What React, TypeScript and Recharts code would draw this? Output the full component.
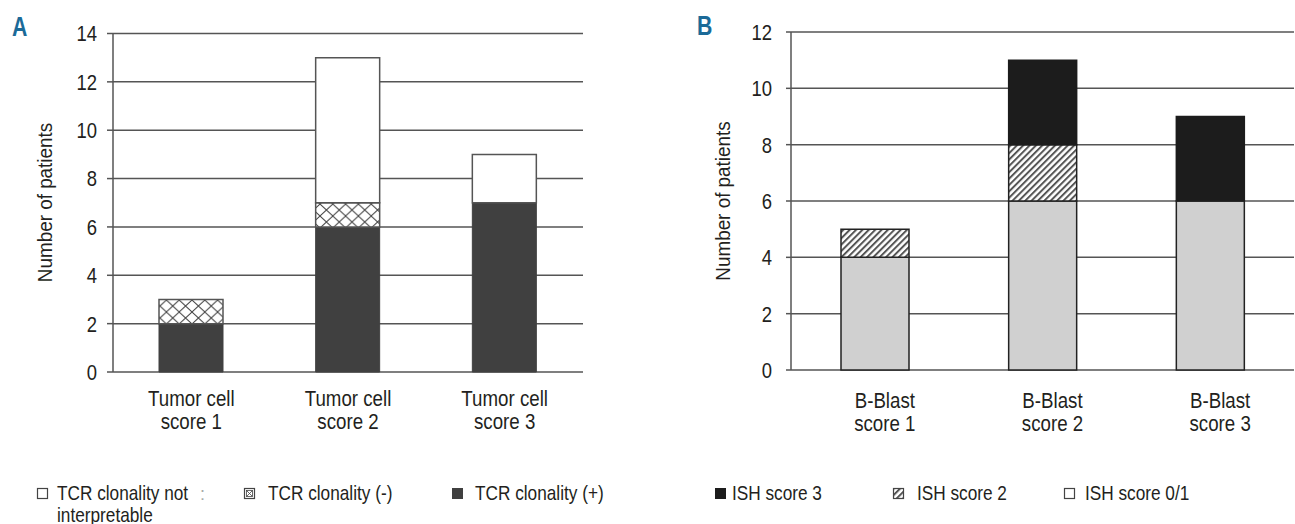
import React from 'react';
import { BarChart, Bar, XAxis, YAxis, CartesianGrid } from 'recharts';

// ---------- Data ----------
const categoriesA = ['Tumor cell\nscore 1', 'Tumor cell\nscore 2', 'Tumor cell\nscore 3'];
const tcrPositive = [2, 6, 7];
const tcrNegative = [1, 1, 0];
const tcrNotInterpretable = [0, 6, 2];
const ticksA = [0, 2, 4, 6, 8, 10, 12, 14];

const categoriesB = ['B-Blast\nscore 1', 'B-Blast\nscore 2', 'B-Blast\nscore 3'];
const ishScore01 = [4, 6, 6];
const ishScore2 = [1, 2, 0];
const ishScore3 = [0, 3, 3];
const ticksB = [0, 2, 4, 6, 8, 10, 12];

const edgeTicks = [0, 1, 2, 3];

const legendA = ['TCR clonality not', 'TCR clonality (-)', 'TCR clonality (+)'];
const legendB = ['ISH score 3', 'ISH score 2', 'ISH score 0/1'];
const yTitle = 'Number of patients';

const dataA = categoriesA.map((cat, i) => ({
  cat,
  pos: tcrPositive[i],
  neg: tcrNegative[i],
  na: tcrNotInterpretable[i],
}));
const dataB = categoriesB.map((cat, i) => ({
  cat,
  s01: ishScore01[i],
  s2: ishScore2[i],
  s3: ishScore3[i],
}));

const FAMILY = '"Liberation Sans", Arial, sans-serif';
const TEXT = '#231f20';
const LINE = '#555';

let _ctx: any = null;
function textWidth(s: string, size: number, bold = false): number {
  if (typeof document === 'undefined') return s.length * size * 0.5;
  if (!_ctx) _ctx = document.createElement('canvas').getContext('2d');
  _ctx.font = `${bold ? 'bold ' : ''}${size}px "Liberation Sans"`;
  return _ctx.measureText(s).width;
}

// Condensed text: Liberation Sans horizontally squeezed to mimic a condensed face
const NT = (props: any) => {
  const { children, size = 21, bold = false, squeeze = 0.82, fill = TEXT, ...rest } = props;
  const s = String(children);
  return (
    <text
      {...rest}
      fill={fill}
      fontFamily={FAMILY}
      fontSize={size}
      fontWeight={bold ? 'bold' : 'normal'}
      textLength={textWidth(s, size, bold) * squeeze}
      lengthAdjust="spacingAndGlyphs"
    >
      {s}
    </text>
  );
};

const CatTick = (props: any) => {
  const { x, y, payload, dx = 0, first = 35 } = props;
  const lines = String(payload.value).split('\n');
  return (
    <g>
      {lines.map((l: string, i: number) => (
        <NT key={i} x={x + dx} y={y + first + i * 23} textAnchor="middle" size={22} squeeze={0.85}>
          {l}
        </NT>
      ))}
    </g>
  );
};

const NumTick = (props: any) => {
  const { x, y, payload } = props;
  return (
    <NT x={x} y={y} dy="0.36em" textAnchor="end" size={22} squeeze={0.84}>
      {payload.value}
    </NT>
  );
};

const Patterns = () => (
  <svg width={0} height={0} style={{ position: 'absolute' }}>
    <defs>
      <pattern id="crosshatch" patternUnits="userSpaceOnUse" width={12.8} height={12} x={0} y={0}>
        <rect width={12.8} height={12} fill="#fff" />
        <path d="M0,0 L12.8,12 M12.8,0 L0,12" stroke="#444" strokeWidth={1} />
      </pattern>
      <pattern id="stripes" patternUnits="userSpaceOnUse" width={4.5} height={4.5} patternTransform="rotate(45)">
        <rect width={4.5} height={4.5} fill="#fff" />
        <line x1={1} y1={0} x2={1} y2={4.5} stroke="#555" strokeWidth={2} />
      </pattern>
    </defs>
  </svg>
);

const ChartA = () => (
  <BarChart
    width={600}
    height={440}
    data={dataA}
    margin={{ top: 33.5, right: 17, bottom: 0, left: 0 }}
    barSize={64}
  >
    <CartesianGrid vertical={false} stroke={LINE} strokeWidth={1.5} />
    <XAxis
      xAxisId="edge"
      type="number"
      domain={[0, 3]}
      ticks={edgeTicks}
      allowDataOverflow
      tick={false}
      tickSize={7}
      height={0}
      axisLine={{ stroke: LINE, strokeWidth: 1.5 }}
      tickLine={{ stroke: LINE, strokeWidth: 1.5 }}
    />
    <XAxis
      dataKey="cat"
      height={68}
      axisLine={false}
      tickLine={false}
      tickSize={0}
      tickMargin={0}
      interval={0}
      tick={<CatTick first={34} />}
    />
    <YAxis
      width={113}
      domain={[0, 14]}
      ticks={ticksA}
      interval={0}
      tickSize={6}
      tickMargin={10}
      tick={<NumTick />}
      axisLine={{ stroke: LINE, strokeWidth: 1.5 }}
      tickLine={{ stroke: LINE, strokeWidth: 1.5 }}
    />
    <Bar dataKey="pos" stackId="a" fill="#404040" stroke="#404040" strokeWidth={1} isAnimationActive={false} />
    <Bar dataKey="neg" stackId="a" fill="url(#crosshatch)" stroke={LINE} strokeWidth={1.5} isAnimationActive={false} />
    <Bar dataKey="na" stackId="a" fill="#fff" stroke={LINE} strokeWidth={1.5} isAnimationActive={false} />
  </BarChart>
);

const ChartB = () => (
  <BarChart
    width={605}
    height={440}
    data={dataB}
    margin={{ top: 32, right: 1, bottom: 0, left: 0 }}
    barSize={68}
  >
    <CartesianGrid vertical={false} stroke={LINE} strokeWidth={1.5} />
    <XAxis
      xAxisId="edge"
      type="number"
      domain={[0, 3]}
      ticks={edgeTicks}
      allowDataOverflow
      tick={false}
      tickSize={7}
      height={0}
      axisLine={{ stroke: LINE, strokeWidth: 1.5 }}
      tickLine={{ stroke: LINE, strokeWidth: 1.5 }}
    />
    <XAxis
      dataKey="cat"
      height={70}
      axisLine={false}
      tickLine={false}
      tickSize={0}
      tickMargin={0}
      interval={0}
      tick={<CatTick first={38} dx={10} />}
    />
    <YAxis
      width={101}
      domain={[0, 12]}
      ticks={ticksB}
      interval={0}
      tickSize={5}
      tickMargin={14}
      tick={<NumTick />}
      axisLine={{ stroke: LINE, strokeWidth: 1.5 }}
      tickLine={{ stroke: LINE, strokeWidth: 1.5 }}
    />
    <Bar dataKey="s01" stackId="b" fill="#d0d0d0" stroke="#222" strokeWidth={1.5} isAnimationActive={false} />
    <Bar dataKey="s2" stackId="b" fill="url(#stripes)" stroke="#222" strokeWidth={1.5} isAnimationActive={false} />
    <Bar dataKey="s3" stackId="b" fill="#1c1c1c" stroke="#1c1c1c" strokeWidth={1.5} isAnimationActive={false} />
  </BarChart>
);

const Overlay = () => (
  <svg width={1295} height={524} style={{ position: 'absolute', left: 0, top: 0, pointerEvents: 'none' }}>
    {/* Panel labels */}
    <NT x={12} y={36} size={28} bold squeeze={0.76} fill="#1b6a98">A</NT>
    <NT x={697} y={35} size={28} bold squeeze={0.76} fill="#1b6a98">B</NT>

    {/* Y axis titles */}
    <NT x={45} y={202.5} dy="0.36em" textAnchor="middle" size={20.5} squeeze={0.92} transform="rotate(-90 45 202.5)">
      {yTitle}
    </NT>
    <NT x={723} y={201} dy="0.36em" textAnchor="middle" size={20.5} squeeze={0.92} transform="rotate(-90 723 201)">
      {yTitle}
    </NT>

    {/* Legend A */}
    <rect x={37.5} y={488.5} width={10} height={10} fill="#fff" stroke="#444" strokeWidth={1.2} />
    <NT x={57} y={500}>{legendA[0]}</NT>
    <text x={200} y={500} fill="#aaa" fontFamily={FAMILY} fontSize={18}>:</text>
    <NT x={57} y={521.5}>interpretable</NT>

    <rect x={244.5} y={488.5} width={10} height={10} fill="#fff" stroke="#444" strokeWidth={1.2} />
    <rect x={246.5} y={490.5} width={6} height={6} fill="none" stroke="#444" strokeWidth={0.8} />
    <path d="M246.5,490.5 L252.5,496.5 M252.5,490.5 L246.5,496.5" stroke="#444" strokeWidth={0.8} />
    <NT x={268} y={500}>{legendA[1]}</NT>

    <rect x={452} y={488} width={11} height={11} fill="#404040" />
    <NT x={475} y={500}>{legendA[2]}</NT>

    {/* Legend B */}
    <rect x={715} y={488} width={11} height={11} fill="#1c1c1c" />
    <NT x={732} y={500}>{legendB[0]}</NT>

    <rect x={893.5} y={488.5} width={10} height={10} fill="url(#stripes)" stroke="#444" strokeWidth={1.2} />
    <NT x={917} y={500}>{legendB[1]}</NT>

    <rect x={1064.5} y={488.5} width={10} height={10} fill="#fff" stroke="#444" strokeWidth={1.2} />
    <NT x={1085} y={500}>{legendB[2]}</NT>
  </svg>
);

export default function App() {
  return (
    <div style={{ position: 'absolute', left: 0, top: 0, width: 1295, height: 524, background: '#fff', overflow: 'hidden' }}>
      <Patterns />
      <div style={{ position: 'absolute', left: 0, top: 0 }}>
        <ChartA />
      </div>
      <div style={{ position: 'absolute', left: 690, top: 0 }}>
        <ChartB />
      </div>
      <Overlay />
    </div>
  );
}
